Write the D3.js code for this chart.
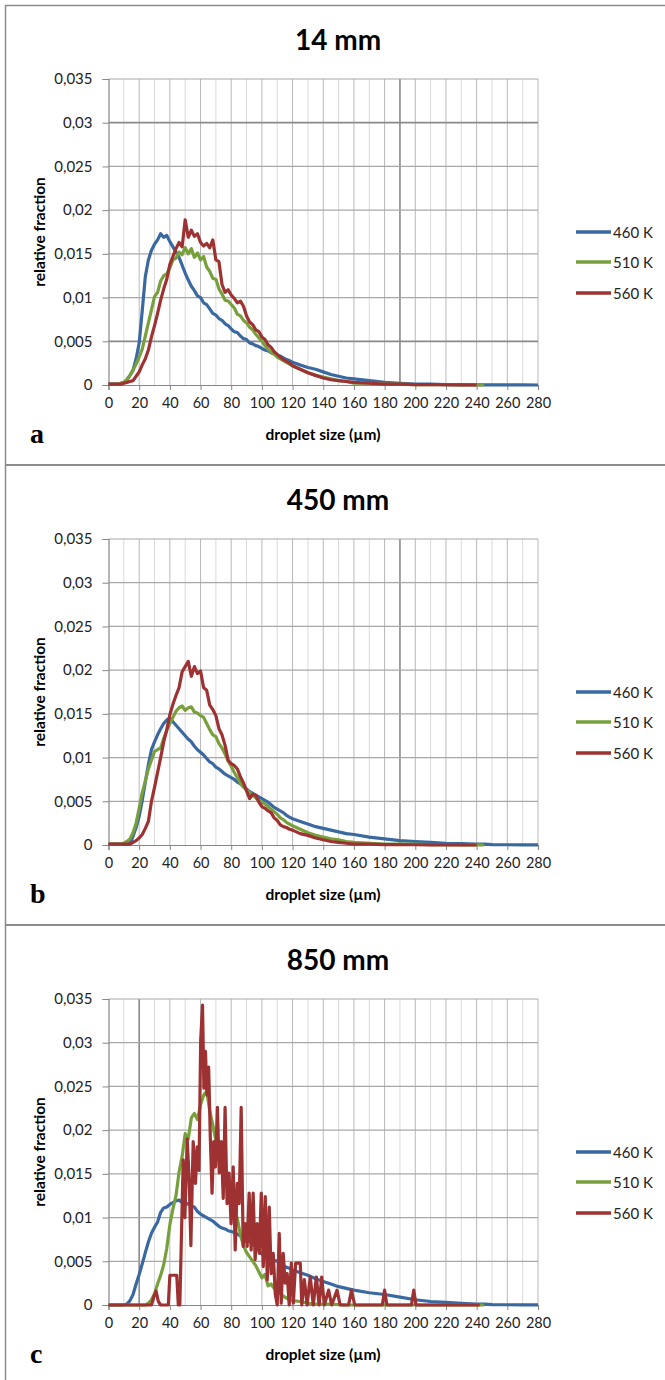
<!DOCTYPE html>
<html>
<head>
<meta charset="utf-8">
<script src="https://cdn.jsdelivr.net/npm/d3@7"></script>
<style>
  html, body { margin: 0; padding: 0; background: #fff; }
  svg { display: block; font-family: Lato, "Liberation Sans", sans-serif; }
</style>
</head>
<body>
<svg id="chart" width="665" height="1380"></svg>
<script>
// droplet size distributions, three heights

///////////////////////////////////////////////////////////////////////////////
// data

var titles = ["14 mm", "450 mm", "850 mm"];
var letters = ["a", "b", "c"];
var seriesNames = ["460 K", "510 K", "560 K"];

var xTicks = [0, 20, 40, 60, 80, 100, 120, 140, 160, 180, 200, 220, 240, 260, 280];
var xMinor = [10, 30, 50, 70, 90, 110, 130, 150, 170, 190, 210, 230, 250, 270];
var yTicks = [0, 0.005, 0.01, 0.015, 0.02, 0.025, 0.03, 0.035];
var yTickLabels = ["0", "0,005", "0,01", "0,015", "0,02", "0,025", "0,03", "0,035"];

// droplet size (um) sample points shared by most series
var sizes = [
  0, 2, 4, 6, 8, 10, 12, 14, 16, 18,
  20, 22, 24, 26, 28, 30, 32, 34, 36, 38,
  40, 42, 44, 46, 48, 50, 52, 54, 56, 58,
  60, 62, 64, 66, 68, 70, 72, 74, 76, 78,
  80, 82, 84, 86, 88, 90, 92, 94, 96, 98,
  100, 102, 104, 106, 108, 110, 112, 114, 116, 118,
  120,
  125, 130, 135, 140, 145, 150, 155, 160,
  170, 180, 190, 200, 210, 220, 230, 240, 245, 250, 260, 270, 280
];

// 14 mm
var a460 = [
  0.0001, 0.0001, 0.0001, 0.0001, 0.0002, 0.0003, 0.0006, 0.0011, 0.0017, 0.0030,
  0.0048, 0.0085, 0.0124, 0.0143, 0.0154, 0.0161, 0.0166, 0.0173, 0.0169, 0.0171,
  0.0164, 0.0158, 0.0152, 0.0146, 0.0137, 0.0128, 0.0120, 0.0113, 0.0108, 0.0102,
  0.0100, 0.0094, 0.0092, 0.0087, 0.0082, 0.0080, 0.0076, 0.0074, 0.0070, 0.0068,
  0.0064, 0.0061, 0.0060, 0.0056, 0.0053, 0.0052, 0.0048, 0.0047, 0.0045, 0.0044,
  0.0042, 0.0040, 0.0039, 0.0037, 0.0036, 0.0034, 0.0033, 0.0031, 0.0029, 0.0028,
  0.0026,
  0.0023, 0.0020, 0.0018, 0.0015, 0.0012, 0.0010, 0.0008, 0.0007,
  0.0005, 0.0003, 0.0002, 0.0001, 0.0001, 0.00005, 0.00004, 0.00003, 0.00002, 0.00002, 0.00001, 0.00001, 0
];
var a510 = [
  0.0001, 0.0001, 0.0001, 0.0001, 0.0002, 0.0003, 0.0006, 0.0011, 0.0017, 0.0024,
  0.0032, 0.0041, 0.0056, 0.0071, 0.0086, 0.0101, 0.0106, 0.0119, 0.0125, 0.0127,
  0.0134, 0.0143, 0.0145, 0.0152, 0.0149, 0.0157, 0.0150, 0.0156, 0.0146, 0.0151,
  0.0143, 0.0147, 0.0135, 0.0130, 0.0122, 0.0121, 0.0110, 0.0104, 0.0097, 0.0096,
  0.0092, 0.0088, 0.0081, 0.0079, 0.0074, 0.0071, 0.0066, 0.0063, 0.0058, 0.0054,
  0.0050, 0.0045, 0.0041, 0.0037, 0.0035, 0.0032, 0.0030, 0.0028, 0.0026, 0.0024,
  0.0022,
  0.0018, 0.0014, 0.0011, 0.0009, 0.0007, 0.0005, 0.0004, 0.0002,
  0.0002, 0.0001, 0.0001, 0.00005, 0.00004, 0.00003, 0.00002, 0.00001, 0, null, null, null, null
];
var a560 = [
  0.0001, 0.0001, 0.0001, 0.0001, 0.0001, 0.0002, 0.0003, 0.0004, 0.0005, 0.0010,
  0.0015, 0.0023, 0.0030, 0.0040, 0.0055, 0.0068, 0.0082, 0.0097, 0.0110, 0.0121,
  0.0138, 0.0147, 0.0156, 0.0163, 0.0158, 0.0189, 0.0169, 0.0177, 0.0170, 0.0173,
  0.0163, 0.0159, 0.0162, 0.0157, 0.0166, 0.0143, 0.0141, 0.0115, 0.0106, 0.0109,
  0.0103, 0.0099, 0.0094, 0.0096, 0.0090, 0.0079, 0.0072, 0.0069, 0.0063, 0.0061,
  0.0055, 0.0052, 0.0046, 0.0043, 0.0038, 0.0035, 0.0032, 0.0029, 0.0027, 0.0025,
  0.0022,
  0.0018, 0.0014, 0.0011, 0.0008, 0.0006, 0.0005, 0.0004, 0.0003,
  0.0002, 0.0001, 0.0001, 0.00005, 0.00004, 0.00003, 0.00002, 0, null, null, null, null, null
];

// 450 mm
var b460 = [
  0.0001, 0.0001, 0.0001, 0.0001, 0.0001, 0.0001, 0.0001, 0.0002, 0.0010, 0.0020,
  0.0033, 0.0051, 0.0072, 0.0092, 0.0109, 0.0118, 0.0126, 0.0133, 0.0139, 0.0143,
  0.0145, 0.0141, 0.0137, 0.0133, 0.0129, 0.0125, 0.0121, 0.0118, 0.0113, 0.0109,
  0.0106, 0.0103, 0.0099, 0.0095, 0.0093, 0.0089, 0.0087, 0.0084, 0.0081, 0.0079,
  0.0077, 0.0075, 0.0072, 0.0070, 0.0067, 0.0064, 0.0061, 0.0059, 0.0057, 0.0055,
  0.0053, 0.0051, 0.0049, 0.0046, 0.0043, 0.0041, 0.0039, 0.0037, 0.0034, 0.0032,
  0.0030,
  0.0027, 0.0024, 0.0021, 0.0019, 0.0017, 0.0015, 0.0013, 0.0012,
  0.0009, 0.0007, 0.0005, 0.0004, 0.0003, 0.0002, 0.00015, 0.0001, 0.0001, 0.00005, 0.00003, 0.00002, 0.00001
];
var b510 = [
  0.0001, 0.0001, 0.0001, 0.0001, 0.0001, 0.0002, 0.0004, 0.0007, 0.0014, 0.0025,
  0.0042, 0.0060, 0.0073, 0.0087, 0.0097, 0.0107, 0.0109, 0.0111, 0.0122, 0.0131,
  0.0139, 0.0146, 0.0153, 0.0157, 0.0159, 0.0154, 0.0157, 0.0158, 0.0152, 0.0151,
  0.0148, 0.0146, 0.0139, 0.0132, 0.0126, 0.0124, 0.0116, 0.0111, 0.0104, 0.0096,
  0.0090, 0.0083, 0.0077, 0.0071, 0.0066, 0.0063, 0.0060, 0.0057, 0.0054, 0.0051,
  0.0049, 0.0047, 0.0044, 0.0041, 0.0038, 0.0035, 0.0031, 0.0029, 0.0026, 0.0024,
  0.0022,
  0.0018, 0.0014, 0.0011, 0.0009, 0.0007, 0.0006, 0.0004, 0.0003,
  0.0002, 0.0001, 0.0001, 0.0001, 0.00005, 0.00003, 0.00002, 0.00001, 0, null, null, null, null
];
var b560 = [
  0.0001, 0.0001, 0.0001, 0.0001, 0.0001, 0.0001, 0.0001, 0.0001, 0.0003, 0.0005,
  0.0008, 0.0012, 0.0019, 0.0027, 0.0050, 0.0066, 0.0083, 0.0100, 0.0118, 0.0132,
  0.0149, 0.0161, 0.0171, 0.0180, 0.0198, 0.0204, 0.0210, 0.0193, 0.0204, 0.0196,
  0.0199, 0.0180, 0.0177, 0.0160, 0.0155, 0.0148, 0.0133, 0.0126, 0.0114, 0.0097,
  0.0093, 0.0091, 0.0087, 0.0078, 0.0071, 0.0062, 0.0053, 0.0058, 0.0057, 0.0049,
  0.0044, 0.0042, 0.0039, 0.0037, 0.0031, 0.0028, 0.0023, 0.0021, 0.0020, 0.0018,
  0.0017,
  0.0013, 0.0011, 0.0008, 0.0006, 0.0004, 0.0003, 0.0002, 0.0001,
  0.0001, 0.00005, 0.00004, 0.00003, 0.00002, 0.00002, 0.00001, 0, null, null, null, null, null
];

// 850 mm
var c460 = [
  0, 0, 0, 0, 0, 0, 0.0001, 0.0005, 0.0012, 0.0024,
  0.0035, 0.0047, 0.0060, 0.0072, 0.0082, 0.0089, 0.0095, 0.0106, 0.0111, 0.0112,
  0.0115, 0.0117, 0.0119, 0.0120, 0.0117, 0.0115, 0.0116, 0.0113, 0.0112, 0.0107,
  0.0104, 0.0102, 0.0100, 0.0098, 0.0096, 0.0093, 0.0090, 0.0088, 0.0087, 0.0085,
  0.0084, 0.0083, 0.0081, 0.0079, 0.0077, 0.0075, 0.0073, 0.0070, 0.0066, 0.0062,
  0.0058, 0.0056, 0.0054, 0.0053, 0.0051, 0.0050, 0.0048, 0.0045, 0.0043, 0.0042,
  0.0040,
  0.0037, 0.0034, 0.0030, 0.0027, 0.0024, 0.0021, 0.0019, 0.0017,
  0.0014, 0.0012, 0.0009, 0.0006, 0.0004, 0.0003, 0.0002, 0.0001, 0.0001, 0.00005, 0.00003, 0.00002, 0.00001
];
var c510 = [
  0, 0, 0, 0, 0, 0, 0, 0, 0, 0,
  0, 0, 0, 0.0002, 0.0006, 0.0013, 0.0024, 0.0034, 0.0046, 0.0065,
  0.0092, 0.0110, 0.0125, 0.0152, 0.0170, 0.0196, 0.0190, 0.0214, 0.0219, 0.0212,
  0.0229, 0.0240, 0.0245, 0.0222, 0.0206, 0.0188, 0.0170, 0.0157, 0.0146, 0.0138,
  0.0125, 0.0110, 0.0099, 0.0080, 0.0068, 0.0060, 0.0055, 0.0050, 0.0045, 0.0038,
  0.0031, 0.0035, 0.0022, 0.0024, 0.0019, 0.0016, 0.0013, 0.0010, 0.0008, 0.0006,
  0.0005,
  0.0004, 0.0002, 0.0001, 0.0001, 0.0001, 0.00005, 0, 0,
  0, 0, 0, 0, 0, 0, 0, 0, 0, null, null, null, null
];
// the 560 K run at 850 mm is spiky, so it has its own sample points
var c560Sizes = [
  0, 28, 29.5, 31, 32.5, 34, 39, 40, 44.5, 45.5,
  46.5, 48.7, 49.8, 51.3, 52.6, 53.7, 55.2, 56.7, 57.8, 59,
  60.1, 61.3, 62.2, 63.2, 64.2, 65.3, 66.4, 67.5, 68.6, 69.7,
  71, 72.2, 73.5, 74.8, 76, 77.3, 78.6, 79.9, 81.3, 82.6,
  83.9, 85.2, 86.5, 87.8, 89.1, 90.4, 91.7, 93, 94.3, 95.6,
  96.9, 98.3, 99.6, 100.9, 102.2, 103.5, 104.8, 106, 107.4, 108.7,
  110, 111.3, 112.6, 113.9, 115.2, 116.5, 117.8, 119.2, 120.5, 122,
  125, 126, 127.7, 129.5, 131.5, 133.5, 135.5, 137.3, 139, 140.7,
  143.5, 145.5, 149, 151, 156.5, 158.4, 160.5, 178.5, 180, 181.5,
  197.5, 199, 200.5, 242
];
var c560 = [
  0, 0, 0.0009, 0.0016, 0.0004, 0, 0, 0.0034, 0.0034, 0,
  0, 0.0166, 0.0100, 0.0190, 0.0143, 0.0068, 0.0187, 0.0139, 0.0181, 0.0154,
  0.0303, 0.0343, 0.0248, 0.0290, 0.0240, 0.0272, 0.0190, 0.0128, 0.0187, 0.0158,
  0.0226, 0.0151, 0.0187, 0.0122, 0.0226, 0.0116, 0.0151, 0.0093, 0.0158, 0.0063,
  0.0139, 0.0116, 0.0226, 0.0067, 0.0093, 0.0067, 0.0128, 0.0063, 0.0128, 0.0052,
  0.0093, 0.0059, 0.0128, 0.0044, 0.0124, 0.0029, 0.0112, 0.0036, 0.0059, 0.0013,
  0, 0.0082, 0.0002, 0.0059, 0.0025, 0.0036, 0, 0.0048, 0.0002, 0.0048,
  0.0048, 0, 0.0029, 0, 0.0032, 0, 0.0032, 0, 0.0032, 0,
  0.0017, 0, 0.0017, 0, 0, 0.0017, 0, 0, 0.0017, 0,
  0, 0.0017, 0, 0
];

var colors = ["#3a68a0", "#77a03c", "#9e3232"];

var panels = [
  { title: titles[0], letter: letters[0],
    series: [[sizes, a460], [sizes, a510], [sizes, a560]],
    darkY: [0.03, 0.005], darkX: [190] },
  { title: titles[1], letter: letters[1],
    series: [[sizes, b460], [sizes, b510], [sizes, b560]],
    darkY: [], darkX: [190] },
  { title: titles[2], letter: letters[2],
    series: [[sizes, c460], [sizes, c510], [c560Sizes, c560]],
    darkY: [], darkX: [20] }
];

///////////////////////////////////////////////////////////////////////////////
// frame

var svg = d3.select("#chart");
var PANEL_H = 460;

svg.append("line")
  .attr("x1", 5.5).attr("x2", 5.5).attr("y1", 5).attr("y2", 1380)
  .attr("stroke", "#8c8c8c").attr("stroke-width", 1.5);
svg.append("line")
  .attr("x1", 5).attr("x2", 665).attr("y1", 5.5).attr("y2", 5.5)
  .attr("stroke", "#8c8c8c").attr("stroke-width", 1.5);
[465, 925].forEach(function (y) {
  svg.append("line")
    .attr("x1", 5).attr("x2", 665).attr("y1", y).attr("y2", y)
    .attr("stroke", "#8c8c8c").attr("stroke-width", 1.8);
});

var x = d3.scaleLinear().domain([0, 280]).range([108.5, 538]);

///////////////////////////////////////////////////////////////////////////////
// one panel

var drawPanel = function (panel, i) {
  var oy = i * PANEL_H;
  var g = svg.append("g").attr("transform", "translate(0," + oy + ")");
  var y = d3.scaleLinear().domain([0, 0.035]).range([385, 79]);

  var isDark = function (list, d) { return list.indexOf(d) >= 0; };

  // minor vertical grid
  g.selectAll(".minor").data(xMinor).enter().append("line")
    .attr("x1", x).attr("x2", x).attr("y1", y(0)).attr("y2", y(0.035))
    .attr("stroke", function (d) { return isDark(panel.darkX, d) ? "#8a8a8a" : "#dadada"; })
    .attr("stroke-width", function (d) { return isDark(panel.darkX, d) ? 1.6 : 1; });

  // major vertical grid
  g.selectAll(".major").data(xTicks.slice(1)).enter().append("line")
    .attr("x1", x).attr("x2", x).attr("y1", y(0)).attr("y2", y(0.035))
    .attr("stroke", function (d) { return isDark(panel.darkX, d) ? "#8a8a8a" : "#b8b8b8"; })
    .attr("stroke-width", function (d) { return isDark(panel.darkX, d) ? 1.6 : 1; });

  // horizontal grid
  g.selectAll(".hgrid").data(yTicks.slice(1)).enter().append("line")
    .attr("x1", x(0)).attr("x2", x(280)).attr("y1", y).attr("y2", y)
    .attr("stroke", function (d) { return isDark(panel.darkY, d) ? "#8a8a8a" : "#a8a8a8"; })
    .attr("stroke-width", function (d) { return isDark(panel.darkY, d) ? 1.8 : 1.2; });

  // axes
  var yAxis = d3.axisLeft(y).tickValues(yTicks).tickSize(6).tickPadding(10)
    .tickFormat(function (d, k) { return yTickLabels[k]; });
  var yg = g.append("g").attr("transform", "translate(" + x(0) + ",0)").call(yAxis);

  var xAxis = d3.axisBottom(x).tickValues(xTicks).tickSize(5).tickPadding(8)
    .tickFormat(function (d) { return String(d); });
  var xg = g.append("g").attr("transform", "translate(0," + y(0) + ")").call(xAxis);

  [yg, xg].forEach(function (ax) {
    ax.select(".domain").attr("stroke", "#868686").attr("stroke-width", 1.2);
    ax.selectAll(".tick line").attr("stroke", "#868686");
    ax.selectAll(".tick text").attr("fill", "#222").style("font-family", "Lato, sans-serif");
  });
  yg.selectAll(".tick text").style("font-size", "15px");
  xg.selectAll(".tick text").style("font-size", "14.5px");

  // series
  var line = d3.line()
    .defined(function (d) { return d[1] !== null; })
    .x(function (d) { return x(d[0]); })
    .y(function (d) { return y(d[1]); });

  panel.series.forEach(function (s, k) {
    var pts = s[0].map(function (v, j) { return [v, s[1][j]]; });
    g.append("path")
      .datum(pts)
      .attr("d", line)
      .attr("fill", "none")
      .attr("stroke", colors[k])
      .attr("stroke-width", 3.2)
      .attr("stroke-linejoin", "round");
  });

  // legend
  var legY = [232, 262, 293];
  seriesNames.forEach(function (name, k) {
    g.append("line")
      .attr("x1", 576).attr("x2", 611).attr("y1", legY[k]).attr("y2", legY[k])
      .attr("stroke", colors[k]).attr("stroke-width", 3.6);
    g.append("text")
      .attr("x", 613).attr("y", legY[k] + 5.5)
      .style("font-size", "15px").attr("fill", "#222")
      .text(name);
  });

  // titles
  g.append("text")
    .attr("x", 338).attr("y", 50)
    .attr("text-anchor", "middle")
    .style("font-size", "28px").style("font-weight", "bold")
    .text(panel.title);

  g.append("text")
    .attr("transform", "translate(45," + ((79 + 385) / 2) + ") rotate(-90)")
    .attr("text-anchor", "middle")
    .style("font-size", "15.5px").style("font-weight", "bold")
    .text("relative fraction");

  g.append("text")
    .attr("x", 323).attr("y", 440)
    .attr("text-anchor", "middle")
    .style("font-size", "15.5px").style("font-weight", "bold")
    .text("droplet size (\u00b5m)");

  g.append("text")
    .attr("x", 30).attr("y", 443)
    .style("font-family", "'Liberation Serif', serif")
    .style("font-size", "28px").style("font-weight", "bold")
    .text(panel.letter);
};

panels.forEach(drawPanel);
</script>
</body>
</html>
